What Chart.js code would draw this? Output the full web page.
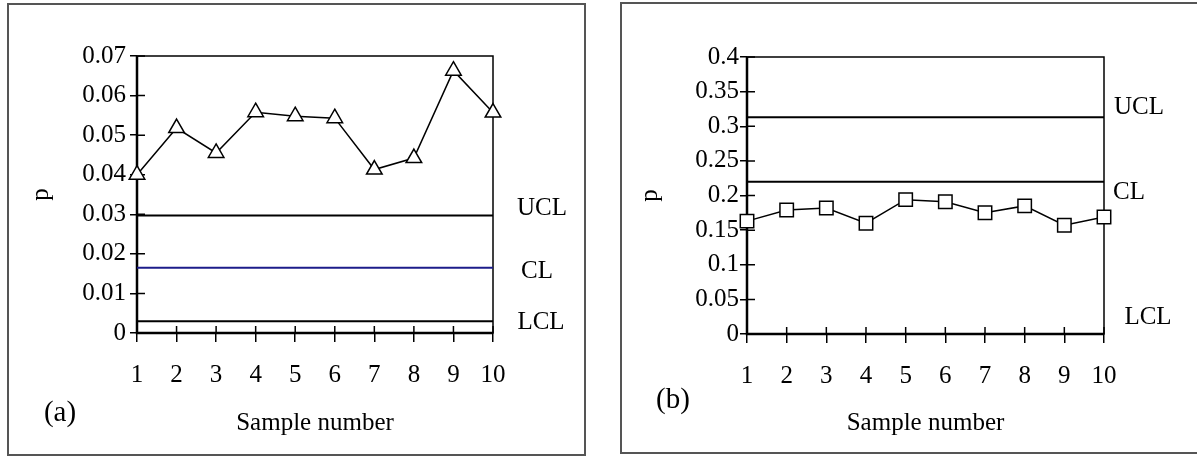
<!DOCTYPE html>
<html>
<head>
<meta charset="utf-8">
<script src="https://cdn.jsdelivr.net/npm/chart.js@4.4.0/dist/chart.umd.min.js"></script>
<style>
  html, body { margin: 0; padding: 0; background: #fff; }
  body { width: 1197px; height: 457px; position: relative; overflow: hidden; }
  .frame { position: absolute; border: 2px solid #555; box-sizing: border-box; }
  .wrap { position: absolute; top: 0; height: 457px; }
</style>
</head>
<body>
<div class="frame" style="left:7px;top:3px;width:579px;height:453px"></div>
<div class="frame" style="left:620px;top:2px;width:580px;height:452px"></div>
<div class="wrap" style="left:0;width:600px"><canvas id="chartA"></canvas></div>
<div class="wrap" style="left:600px;width:597px"><canvas id="chartB"></canvas></div>
<script>
'use strict';

const FONT = "'Liberation Serif', 'Times New Roman', serif";
Chart.defaults.font.family = FONT;
Chart.defaults.font.size = 25;
Chart.defaults.color = '#000';

const samples = ['1', '2', '3', '4', '5', '6', '7', '8', '9', '10'];
const limitNames = ['UCL', 'CL', 'LCL'];

// (a)
const pA = [0.0400, 0.0518, 0.0455, 0.0558, 0.0548, 0.0543, 0.0413, 0.0442, 0.0663, 0.0557];
const limitsA = [0.0297, 0.0165, 0.0030];
const yTicksA = [0, 0.01, 0.02, 0.03, 0.04, 0.05, 0.06, 0.07];
const yTickLabelsA = ['0', '0.01', '0.02', '0.03', '0.04', '0.05', '0.06', '0.07'];

// (b)
const pB = [0.163, 0.179, 0.182, 0.160, 0.194, 0.191, 0.175, 0.185, 0.157, 0.169];
const limitsB = [0.313, 0.220, 0];
const yTicksB = [0, 0.05, 0.1, 0.15, 0.2, 0.25, 0.3, 0.35, 0.4];
const yTickLabelsB = ['0', '0.05', '0.1', '0.15', '0.2', '0.25', '0.3', '0.35', '0.4'];

// frame + inner tick marks under the data, labels on top
const decor = {
    id: 'decor',
    beforeDatasetsDraw(chart, args, opts) {
        const { ctx, chartArea: a, scales: { x, y } } = chart;
        ctx.save();
        ctx.strokeStyle = '#000';
        ctx.lineWidth = 1.5;
        ctx.beginPath();
        x.ticks.forEach((t, i) => {
            const px = x.getPixelForTick(i);
            ctx.moveTo(px, a.bottom);
            ctx.lineTo(px, a.bottom - 7);
        });
        y.ticks.forEach((t, i) => {
            const py = y.getPixelForTick(i);
            ctx.moveTo(a.left, py);
            ctx.lineTo(a.left + 8, py);
        });
        ctx.stroke();
        ctx.strokeRect(a.left, a.top, a.width, a.height);
        ctx.lineWidth = 2.5;
        ctx.beginPath();
        ctx.moveTo(a.left, a.top);
        ctx.lineTo(a.left, a.bottom);
        ctx.lineTo(a.right, a.bottom);
        ctx.stroke();
        ctx.restore();
    },
    afterDatasetsDraw(chart, args, opts) {
        const { ctx, chartArea: a, scales: { y } } = chart;
        ctx.save();
        ctx.fillStyle = '#000';
        ctx.textAlign = 'center';
        ctx.textBaseline = 'middle';
        ctx.font = '25px ' + FONT;
        opts.limits.forEach((v, i) => {
            const [dx, dy] = opts.offsets[i];
            ctx.fillText(limitNames[i], a.right + dx, y.getPixelForValue(v) + dy);
        });
        ctx.font = '29px ' + FONT;
        ctx.fillText(opts.panel, opts.panelX, opts.panelY);
        ctx.restore();
    }
};

function makeChart(id, cfg) {
    const limitSets = cfg.limits.map((v, i) => ({
        label: limitNames[i],
        data: samples.map(() => v),
        borderColor: cfg.limitColors[i],
        borderWidth: 2,
        pointRadius: 0,
        order: 1
    }));
    return new Chart(document.getElementById(id), {
        type: 'line',
        data: {
            labels: samples,
            datasets: [{
                label: 'p',
                data: cfg.values,
                borderColor: '#000',
                borderWidth: 1.5,
                pointStyle: cfg.marker,
                pointRadius: cfg.markerSize,
                pointBackgroundColor: '#fff',
                pointBorderColor: '#000',
                pointBorderWidth: 1.5,
                clip: false,
                order: 0
            }].concat(limitSets)
        },
        plugins: [decor],
        options: {
            animation: false,
            responsive: true,
            maintainAspectRatio: false,
            layout: { padding: cfg.padding },
            plugins: {
                legend: { display: false },
                tooltip: { enabled: false },
                decor: {
                    limits: cfg.limits,
                    offsets: cfg.labelOffsets,
                    panel: cfg.panel,
                    panelX: cfg.panelPos[0],
                    panelY: cfg.panelPos[1]
                }
            },
            scales: {
                x: {
                    offset: false,
                    afterFit: s => { s.height = cfg.xHeight; },
                    border: { display: false },
                    grid: { drawOnChartArea: false, drawTicks: true, tickLength: 9, color: '#000', lineWidth: 1.5 },
                    ticks: { padding: 18, maxRotation: 0, autoSkip: false },
                    title: { display: true, text: 'Sample number', padding: { top: 0, bottom: 19 } }
                },
                y: {
                    min: 0,
                    max: cfg.yTicks[cfg.yTicks.length - 1],
                    afterBuildTicks: s => { s.ticks = cfg.yTicks.map(v => ({ value: v })); },
                    afterFit: s => { s.width = 117; },
                    border: { display: false },
                    grid: { drawOnChartArea: false, drawTicks: true, tickLength: 7, color: '#000', lineWidth: 1.5 },
                    ticks: {
                        padding: cfg.yPad,
                        callback: (v, i) => cfg.yLabels[i]
                    },
                    title: { display: true, text: 'p', padding: { top: cfg.pPad, bottom: 0 } }
                }
            }
        }
    });
}

makeChart('chartA', {
    values: pA,
    limits: limitsA,
    limitColors: ['#000', '#1c1c8a', '#000'],
    yTicks: yTicksA,
    yLabels: yTickLabelsA,
    yPad: 4,
    pPad: 6,
    marker: 'triangle',
    markerSize: 9,
    padding: { left: 20, right: 107, top: 56, bottom: 0 },
    xHeight: 124,
    labelOffsets: [[49, -7], [44, 4], [48, 1]],
    panel: '(a)',
    panelPos: [60, 413]
});

makeChart('chartB', {
    values: pB,
    limits: limitsB,
    limitColors: ['#000', '#000', '#000'],
    yTicks: yTicksB,
    yLabels: yTickLabelsB,
    yPad: 1,
    pPad: 5,
    marker: 'rect',
    markerSize: 9.5,
    padding: { left: 30, right: 93, top: 57, bottom: 0 },
    xHeight: 123,
    labelOffsets: [[35, -10], [25, 11], [44, -17]],
    panel: '(b)',
    panelPos: [73, 400]
});
</script>
</body>
</html>
